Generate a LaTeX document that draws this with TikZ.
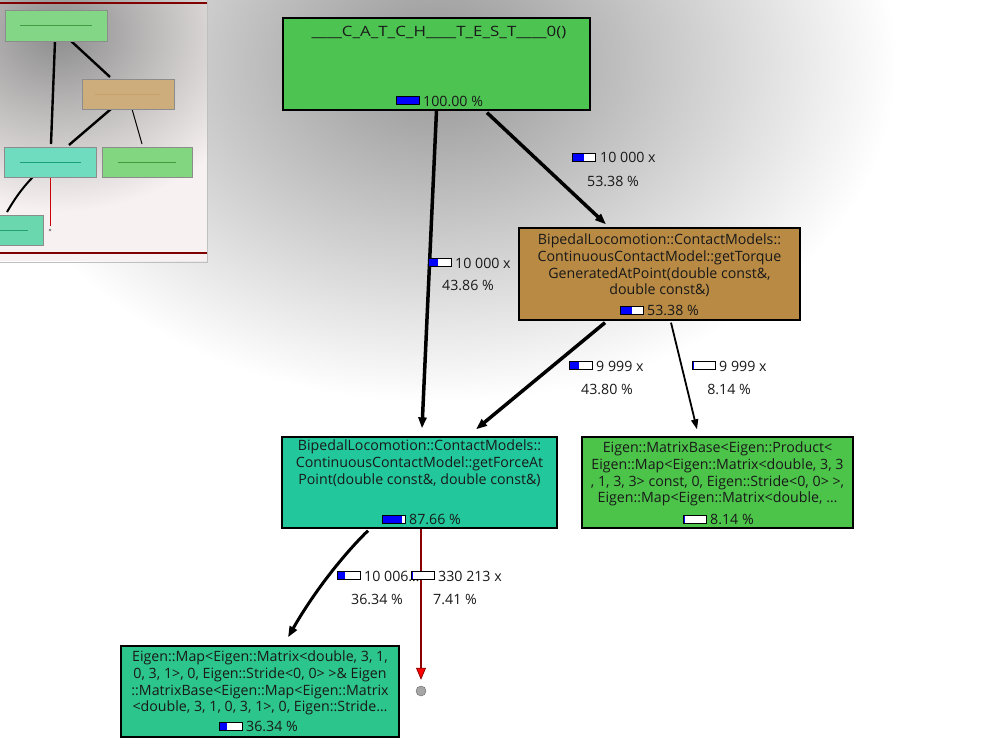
\documentclass[tikz,border=0pt]{standalone}
\usepackage{fontspec}
\setmainfont{Open Sans}
\usetikzlibrary{arrows.meta}
\definecolor{cTop}{RGB}{77,196,82}
\definecolor{cBrown}{RGB}{184,138,68}
\definecolor{cTeal}{RGB}{34,200,156}
\definecolor{cRight}{RGB}{76,196,74}
\definecolor{cBottom}{RGB}{44,198,140}
\definecolor{cDarkRed}{RGB}{139,0,0}
\definecolor{cMiniBg}{RGB}{247,241,241}
\definecolor{cMiniRed}{RGB}{128,0,0}
\newcommand\pctbar[3]{%
  \fill[white] (#1,#2) rectangle ++(23,8);
  \fill[blue] (#1,#2) rectangle ++({23*#3},8);
  \draw[line width=0.9pt] (#1,#2) rectangle ++(23,8);
}
\tikzset{
  fbox/.style={draw=black, line width=1.3pt, inner sep=0pt},
  ftxt/.style={inner sep=0pt, align=center, anchor=north, text=black!90},
  lbl/.style={inner sep=0pt, anchor=west, text=black!90},
  pct/.style={inner sep=0pt, text=black!90},
  edge/.style={draw=black, line width=3.5pt, -{Triangle[length=11pt,width=8pt]}},
  thinedge/.style={draw=black, line width=1.8pt, -{Triangle[length=10pt,width=7pt]}},
}
\begin{document}
\begin{tikzpicture}[x=1pt,y=-1pt, font=\fontsize{14.2}{16.6}\selectfont]
\useasboundingbox (0,0) rectangle (982,744);
\fill[white] (0,0) rectangle (982,744);
\begin{scope}
  \clip (0,0) rectangle (982,744);
  \shade[inner color=black!42, outer color=white] (437,62) ellipse [x radius=460, y radius=340];
\end{scope}

% boxes
\node[fbox, fill=cTop, minimum width=307pt, minimum height=92pt] (top) at (436.5,64) {};
\node[fbox, fill=cBrown, minimum width=281pt, minimum height=92pt] (brown) at (659.5,274) {};
\node[fbox, fill=cTeal, minimum width=275pt, minimum height=91pt] (teal) at (419.5,482.5) {};
\node[fbox, fill=cRight, minimum width=271pt, minimum height=91pt] (right) at (717.5,482.5) {};
\node[fbox, fill=cBottom, minimum width=278pt, minimum height=91pt] (bottom) at (260,691.5) {};
\node[circle, draw=black!60, fill=black!35, minimum size=10pt, inner sep=0pt] (sink) at (421,691) {};

% texts
\node[ftxt] (topT) at (439,26) {\scalebox{1.19}[1]{\_\_\_\_C\_A\_T\_C\_H\_\_\_\_T\_E\_S\_T\_\_\_\_0()}};
\node[ftxt] (brownT) at (659.5,234) {BipedalLocomotion::ContactModels::\\ContinuousContactModel::getTorque\\GeneratedAtPoint(double const\&,\\double const\&)};
\node[ftxt] (tealT) at (419.5,440) {BipedalLocomotion::ContactModels::\\ContinuousContactModel::getForceAt\\Point(double const\&, double const\&)};
\node[ftxt] (rightT) at (717.5,442) {Eigen::MatrixBase<Eigen::Product<\\Eigen::Map<Eigen::Matrix<double, 3, 3\\, 1, 3, 3> const, 0, Eigen::Stride<0, 0> >,\\Eigen::Map<Eigen::Matrix<double, \dots};
\node[ftxt] (bottomT) at (260,651) {Eigen::Map<Eigen::Matrix<double, 3, 1,\\0, 3, 1>, 0, Eigen::Stride<0, 0> >\& Eigen\\::MatrixBase<Eigen::Map<Eigen::Matrix\\<double, 3, 1, 0, 3, 1>, 0, Eigen::Stride\dots};

% node bars
\pctbar{396}{96}{1.0}
\node[lbl] (topP) at (423,101) {100.00 \%};
\pctbar{620}{306}{0.53}
\node[lbl] (brownP) at (647,310) {53.38 \%};
\pctbar{382}{515}{0.88}
\node[lbl] (tealP) at (409,519) {87.66 \%};
\pctbar{683}{515}{0.08}
\node[lbl] (rightP) at (710,519) {8.14 \%};
\pctbar{219}{722}{0.36}
\node[lbl] (bottomP) at (246,726) {36.34 \%};

% edges
\draw[edge] (top.south) -- ([xshift=2.5pt,yshift=8pt]teal.north);
\draw[edge] ([xshift=50.5pt,yshift=-2pt]top.south) -- ([xshift=-53.5pt,yshift=3pt]brown.north);
\draw[edge] ([xshift=-54.5pt,yshift=-2pt]brown.south) -- ([xshift=56.5pt,yshift=7pt]teal.north);
\draw[thinedge] ([xshift=11.5pt,yshift=-2pt]brown.south) -- ([xshift=-20.5pt,yshift=7pt]right.north);
\draw[edge, line width=3pt] ([xshift=-51.5pt,yshift=-2pt]teal.south) .. controls (350,548) and (318,585) .. ([xshift=28pt,yshift=8pt]bottom.north);
\draw[cDarkRed, line width=1.6pt, -{Triangle[length=12pt,width=10pt,fill=red,line width=0.8pt]}] ([xshift=1.5pt]teal.south) -- ([yshift=6pt]sink.north);

% edge labels
\pctbar{428}{258}{0.44}
\node[lbl] (l1a) at (455,263) {10 000 x};
\node[pct] (l1b) at (468,285) {43.86 \%};
\pctbar{572}{153}{0.53}
\node[lbl] (l2a) at (600,157) {10 000 x};
\node[pct] (l2b) at (613,181) {53.38 \%};
\pctbar{569}{361}{0.44}
\node[lbl] (l3a) at (596,366) {9 999 x};
\node[pct] (l3b) at (607,389) {43.80 \%};
\pctbar{692}{361}{0.08}
\node[lbl] (l4a) at (719,366) {9 999 x};
\node[pct] (l4b) at (729,389) {8.14 \%};
\pctbar{337}{571}{0.36}
\node[lbl] (l5a) at (364,576) {10 006\dots};
\node[pct] (l5b) at (377,599) {36.34 \%};
\pctbar{411}{571}{0.07}
\node[lbl] (l6a) at (438,576) {330 213 x};
\node[pct] (l6b) at (455,599) {7.41 \%};

% minimap
\begin{scope}
  \clip (0,0) rectangle (207,261);
  \fill[cMiniBg] (0,0) rectangle (207,261);
  \shade[inner color=black!45, outer color=cMiniBg] (58,32) ellipse [x radius=210, y radius=180];
  \draw[black, line width=2.4pt] (55,41) -- (51,144);
  \draw[black, line width=2.4pt] (71,41) -- (110,77);
  \draw[black, line width=2.4pt] (111,109) -- (69,145);
  \draw[black, line width=1pt] (132,109) -- (142,144);
  \draw[black, line width=2pt] (33,177) .. controls (22,188) and (14,200) .. (7,212);
  \draw[red!80!black, line width=0.8pt] (50,177) -- (50,226);
  \fill[black!50] (50,230) circle (1.3);
  \filldraw[fill=cTop!70!white, draw=black!45] (5,10) rectangle (107,41);
  \draw[cTop!80!black, line width=0.6pt] (20,25) -- (92,25);
  \filldraw[fill=cBrown!70!white, draw=black!45] (82,79) rectangle (174,109);
  \draw[cBrown!80!white, line width=0.6pt] (95,94) -- (160,94);
  \filldraw[fill=cTeal!65!white, draw=black!45] (4,147) rectangle (96,177);
  \draw[cTeal!80!black, line width=0.8pt] (20,162) -- (81,162);
  \filldraw[fill=cRight!70!white, draw=black!45] (102,147) rectangle (192,177);
  \draw[cRight!80!black, line width=0.8pt] (118,162) -- (176,162);
  \filldraw[fill=cBottom!70!white, draw=black!45] (-5,215) rectangle (43,245);
  \draw[cBottom!80!black, line width=0.6pt] (0,230) -- (28,230);
  \draw[cMiniRed, line width=2pt] (0,3) -- (207,3);
  \draw[cMiniRed, line width=2pt] (0,253) -- (207,253);
\end{scope}
\draw[black!25, line width=1pt] (207.5,0) -- (207.5,262) -- (0,262);
\end{tikzpicture}
\end{document}
